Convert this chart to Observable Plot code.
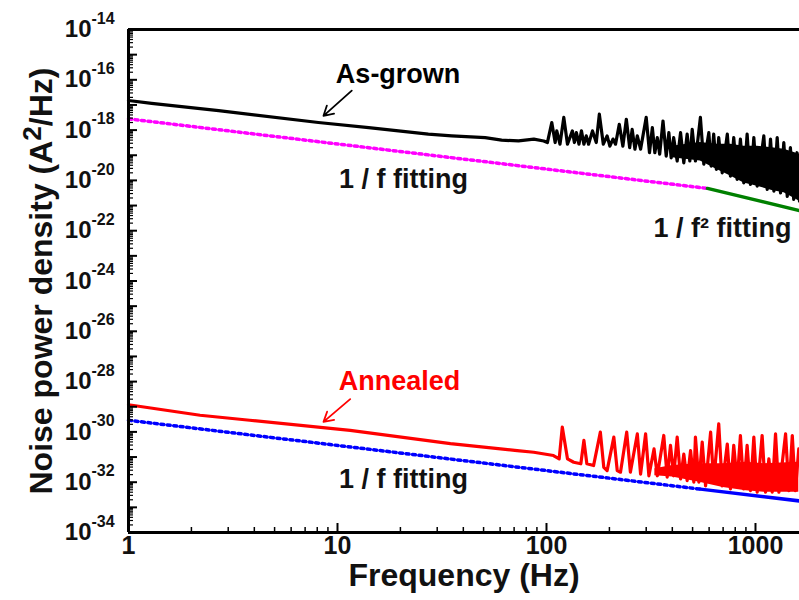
<!DOCTYPE html>
<html><head><meta charset="utf-8">
<script src="https://cdn.jsdelivr.net/npm/d3@7"></script>
<script src="https://cdn.jsdelivr.net/npm/@observablehq/plot@0.6"></script>
<style>html,body{margin:0;padding:0;background:#fff;} svg{display:block}</style>
</head><body><div id="chart"></div>
<script>
// ---- As-grown (black) noise spectrum ----
const blackFreq = [1, 1.29, 2.7, 8.1, 14.1, 27.2, 35.2, 50.9, 61, 73.5, 87, 97,
  101, 106, 110, 112, 116, 121, 126, 133, 136, 139, 143, 147, 151, 155, 159, 166, 173, 179, 187,
  195, 201, 208, 214, 223, 232, 241, 250, 257, 265, 272, 282, 300, 311, 321, 330, 339, 348,
  361, 374, 385, 395, 406, 422, 438, 454, 471, 485, 498, 516, 545, 566, 598, 614, 631, 650,
  667, 693, 733, 759, 787, 817, 847, 879, 912, 946, 982, 1019, 1096, 1138, 1180, 1225, 1270,
  1318, 1366, 1419, 1469, 1524, 1581, 1624];
const blackVal = [1.5e-17, 1.15e-17, 5.9e-18, 2.0e-18, 1.26e-18, 6.9e-19, 5.9e-19, 5.0e-19, 4.0e-19, 3.7e-19, 4.4e-19, 3.7e-19,
  3.2e-19, 2.0e-18, 3.2e-19, 9.3e-19, 2.75e-19, 3.2e-18, 2.75e-19, 9.3e-19, 3.2e-19, 7.9e-19, 2.75e-19, 9.3e-19, 2.75e-19, 5.9e-19, 2.75e-19, 9.3e-19, 3.2e-19, 4.3e-18, 2.75e-19,
  5.9e-19, 2.3e-19, 4.4e-19, 2.75e-19, 1.7e-18, 2.3e-19, 2.7e-18, 2.0e-19, 1.07e-18, 1.74e-19, 5.9e-19, 1.74e-19, 3.2e-18, 1.26e-19, 1.26e-18, 1.26e-19, 5.0e-19, 1.1e-19,
  2.3e-18, 9.3e-20, 7.9e-19, 7.9e-20, 5.0e-19, 5.9e-20, 7.9e-19, 5.0e-20, 6.9e-19, 5.9e-20, 1.07e-18, 5.9e-20, 3.2e-18, 4.4e-20, 7.9e-19, 3.7e-20, 6.9e-19, 2.75e-20,
  5.0e-19, 2.0e-20, 6.9e-19, 1.48e-20, 5.0e-19, 1.1e-20, 4.4e-19, 7.9e-21, 6.9e-19, 6.9e-21, 5.0e-19, 5.9e-21, 5.9e-19, 4.4e-21, 4.4e-19, 3.7e-21, 5.0e-19,
  3.2e-21, 3.2e-19, 2.3e-21, 2.0e-19, 1.74e-21, 1.26e-19, 1.48e-21];
// dense part of the black spectrum (envelope of the fast oscillation)
const blackBandFreq = [400, 545, 650, 760, 880, 1020, 1200, 1370, 1624];
const blackBandLow  = [7.9e-20, 5.9e-20, 2.75e-20, 1.48e-20, 7.9e-21, 5.9e-21, 4.0e-21, 3.2e-21, 1.48e-21];
const blackBandHigh = [2.3e-19, 3.2e-19, 2.75e-19, 2.75e-19, 2.3e-19, 2.3e-19, 2.0e-19, 1.74e-19, 1.1e-19];

// ---- Annealed (red) noise spectrum ----
const redFreq = [1, 2.2, 3.8, 11.5, 34.7, 60.3, 72.4, 86.9, 108, 115, 119, 126, 135, 146, 151, 156, 168,
  181, 188, 195, 210, 218, 226, 242, 252, 272, 282, 298, 309, 327, 339, 364, 378, 392, 406, 422,
  438, 454, 471, 489, 507, 516, 536, 556, 577, 610, 631, 667, 693, 733, 759, 787, 817, 847, 879,
  912, 946, 982, 1019, 1076, 1117, 1159, 1202, 1247, 1294, 1393, 1445, 1500, 1552, 1611];
const redVal = [1.2e-29, 4.6e-30, 2.9e-30, 1.15e-30, 3.4e-31, 2.1e-31, 1.8e-31, 1.55e-31, 1.15e-31, 8.5e-32, 1.55e-30, 8.5e-32, 6.2e-32, 5.4e-32, 4.6e-31, 5.4e-32, 4.6e-32,
  9.8e-31, 3.9e-32, 2.9e-32, 6.2e-31, 2.9e-32, 2.5e-32, 9.8e-31, 2.5e-32, 8.3e-31, 2.1e-32, 8.3e-31, 1.8e-32, 2.1e-31, 1.8e-32, 7.2e-31, 1.6e-32, 2.9e-31, 1.8e-32, 6.2e-31,
  1.35e-32, 1.3e-31, 1.15e-32, 1.8e-31, 1.0e-32, 6.2e-31, 1.0e-32, 3.9e-31, 7.2e-33, 9.8e-31, 1.0e-32, 2.09e-30, 7.2e-33, 3.3e-31, 5.4e-33, 2.9e-31, 1.0e-32, 7.2e-31, 5.4e-33,
  2.9e-31, 4.6e-33, 6.2e-31, 4.0e-33, 7.2e-31, 4.0e-33, 8.5e-32, 4.0e-33, 8.3e-31, 4.0e-33, 8.3e-31, 4.6e-33, 7.2e-31, 4.6e-33, 2.1e-31];
const redBandFreq = [330, 400, 540, 700, 900, 1100, 1611];
const redBandLow  = [1.8e-32, 1.6e-32, 1.0e-32, 6.2e-33, 4.6e-33, 4.0e-33, 4.0e-33];
const redBandHigh = [3.4e-32, 4.6e-32, 5.4e-32, 5.4e-32, 6.2e-32, 5.4e-32, 6.2e-32];

// ---- Fits ----
const magentaFreq = [1, 589];      const magentaVal = [2.8e-18, 4.8e-21];   // 1/f (as-grown)
const greenFreq   = [589, 1624];   const greenVal   = [4.8e-21, 6.3e-22];   // 1/f^2 (as-grown)
const blueDotFreq = [1, 545];      const blueDotVal = [2.9e-30, 5.3e-33];   // 1/f (annealed)
const blueSolFreq = [545, 1624];   const blueSolVal = [5.3e-33, 1.8e-33];

// ---- Axis ticks ----
const xMajor = [1, 10, 100, 1000];
const xMinor = [2,3,4,5,6,7,8,9,20,30,40,50,60,70,80,90,200,300,400,500,600,700,800,900];
const yLabelTicks = [1e-14,1e-16,1e-18,1e-20,1e-22,1e-24,1e-26,1e-28,1e-30,1e-32,1e-34];
const yDecades = [1e-14,1e-15,1e-16,1e-17,1e-18,1e-19,1e-20,1e-21,1e-22,1e-23,1e-24,1e-25,1e-26,1e-27,1e-28,1e-29,1e-30,1e-31,1e-32,1e-33,1e-34];
const yMinor = yDecades.slice(1).flatMap(d => [2,3,4,5,6,7,8,9].map(m => m*d));

const annotationLabels = ["As-grown", "1 / f fitting", "1 / f\u00B2 fitting", "Annealed", "1 / f fitting"];

const rows = (fs, vs) => fs.map((f, i) => ({f, v: vs[i]}));
const band = (fs, lo, hi) => fs.map((f, i) => ({f, lo: lo[i], hi: hi[i]}));

const FONT = '"Liberation Sans", Arial, Helvetica, sans-serif';
const W = 799, H = 600, ML = 128, MR = 0, MT = 29, MB = 68;
const FW = W - ML - MR, FH = H - MT - MB;
const B = "bold";

const chart = Plot.plot({
  width: W, height: H,
  marginLeft: ML, marginRight: MR, marginTop: MT, marginBottom: MB,
  x: {type: "log", domain: [1, 1624], axis: null},
  y: {type: "log", domain: [1e-34, 1e-14], axis: null},
  style: {fontFamily: FONT, background: "white", color: "black", overflow: "visible"},
  marks: [
    // data
    Plot.areaY(band(blackBandFreq, blackBandLow, blackBandHigh), {x: "f", y1: "lo", y2: "hi", fill: "black"}),
    Plot.line(rows(blackFreq, blackVal), {x: "f", y: "v", stroke: "black", strokeWidth: 3.2}),
    Plot.areaY(band(redBandFreq, redBandLow, redBandHigh), {x: "f", y1: "lo", y2: "hi", fill: "#ff0000"}),
    Plot.line(rows(redFreq, redVal), {x: "f", y: "v", stroke: "#ff0000", strokeWidth: 3.2}),
    // fits
    Plot.line(rows(magentaFreq, magentaVal), {x: "f", y: "v", stroke: "#ff00ff", strokeWidth: 3.5, strokeDasharray: "3,3.5"}),
    Plot.line(rows(greenFreq, greenVal), {x: "f", y: "v", stroke: "#008000", strokeWidth: 3.5}),
    Plot.line(rows(blueDotFreq, blueDotVal), {x: "f", y: "v", stroke: "#0000ff", strokeWidth: 3.5, strokeDasharray: "3,3.5"}),
    Plot.line(rows(blueSolFreq, blueSolVal), {x: "f", y: "v", stroke: "#0000ff", strokeWidth: 3.5}),
    // frame
    Plot.ruleX([1], {stroke: "black", strokeWidth: 3}),
    Plot.ruleY([1e-34], {stroke: "black", strokeWidth: 3}),
    Plot.ruleY([1e-14], {stroke: "black", strokeWidth: 3}),
    // ticks (inward)
    Plot.tickY(yDecades, {y: d => d, stroke: "black", strokeWidth: 2, insetRight: FW - 9}),
    Plot.tickY(yMinor, {y: d => d, stroke: "black", strokeWidth: 1.2, insetRight: FW - 5}),
    Plot.tickX(xMajor, {x: d => d, stroke: "black", strokeWidth: 2, insetTop: FH - 9}),
    Plot.tickX(xMinor, {x: d => d, stroke: "black", strokeWidth: 1.5, insetTop: FH - 5}),
    // tick labels
    Plot.text(xMajor, {x: d => d, frameAnchor: "bottom", dy: 21, text: d => String(d), fontSize: 25, fontWeight: B, fill: "#111"}),
    Plot.text(yLabelTicks, {y: d => d, frameAnchor: "left", dx: -37, textAnchor: "end", text: () => "10", fontSize: 24, fontWeight: B, fill: "#111"}),
    Plot.text(yLabelTicks, {y: d => d, frameAnchor: "left", dx: -37, dy: -11, textAnchor: "start", text: d => "-" + Math.round(-Math.log10(d)), fontSize: 16, fontWeight: B, fill: "#111"}),
    // axis titles
    Plot.text(["Frequency (Hz)"], {frameAnchor: "bottom", dy: 53, text: d => d, fontSize: 32, fontWeight: B, fill: "#111"}),
    Plot.text(["Noise power density (A2/Hz)"], {frameAnchor: "left", dx: -87, rotate: -90, textAnchor: "middle", text: d => d, fontSize: 32, fontWeight: B, fill: "#111"}),
    // annotations
    Plot.text([annotationLabels[0]], {x: () => 19.5, y: () => 1.7e-16, text: d => d, fontSize: 27, fontWeight: B, fill: "black"}),
    Plot.text([annotationLabels[1]], {x: () => 20.7, y: () => 1.1e-20, text: d => d, fontSize: 27, fontWeight: B, fill: "#111"}),
    Plot.text([annotationLabels[2]], {x: () => 325, y: () => 1.26e-22, textAnchor: "start", text: d => d, fontSize: 27, fontWeight: B, fill: "#111"}),
    Plot.text([annotationLabels[3]], {x: () => 19.8, y: () => 9.8e-29, text: d => d, fontSize: 27, fontWeight: B, fill: "#ff0000"}),
    Plot.text([annotationLabels[4]], {x: () => 20.7, y: () => 1.3e-32, text: d => d, fontSize: 27, fontWeight: B, fill: "#111"}),
    Plot.arrow([0], {x1: () => 11.7, y1: () => 3.7e-17, x2: () => 8.57, y2: () => 3.7e-18, stroke: "black", strokeWidth: 1.8, headLength: 9}),
    Plot.arrow([0], {x1: () => 11.5, y1: () => 2.0e-29, x2: () => 8.57, y2: () => 2.5e-30, stroke: "#ff0000", strokeWidth: 1.8, headLength: 9})
  ]
});

// superscript "2" in the y-axis title
chart.querySelectorAll("text").forEach(t => {
  if (t.textContent === "Noise power density (A2/Hz)") {
    const NS = "http://www.w3.org/2000/svg";
    t.textContent = "";
    const a = document.createElementNS(NS, "tspan"); a.textContent = "Noise power density (A"; t.appendChild(a);
    const s = document.createElementNS(NS, "tspan"); s.textContent = "2"; s.setAttribute("dy", "-11"); s.setAttribute("font-size", "26"); t.appendChild(s);
    const b = document.createElementNS(NS, "tspan"); b.textContent = "/Hz)"; b.setAttribute("dy", "11"); t.appendChild(b);
  }
});
document.getElementById("chart").appendChild(chart);
</script>
</body></html>
